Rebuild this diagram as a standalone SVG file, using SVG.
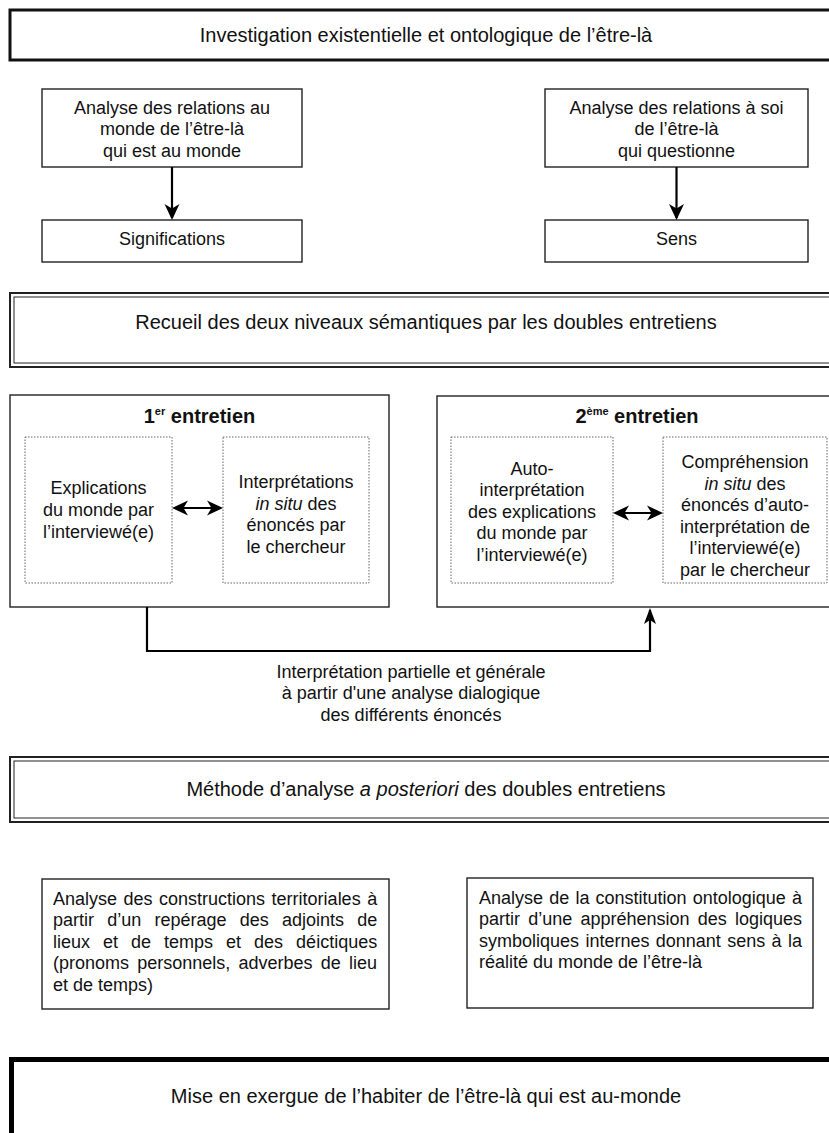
<svg xmlns="http://www.w3.org/2000/svg" width="829" height="1133" viewBox="0 0 829 1133">
<defs>
<style>
text{font-family:"Liberation Sans",Arial,sans-serif;fill:#111;}
.t20{font-size:20px;text-anchor:middle;}
.t18{font-size:18px;text-anchor:middle;}
.tl{font-size:18px;}
.b{font-weight:bold;font-size:20px;text-anchor:middle;}
.box{fill:#fff;stroke:#222;stroke-width:1.4;}
.dot{fill:none;stroke:#666;stroke-width:1;stroke-dasharray:1.5 1.5;}
.arr{fill:none;stroke:#000;stroke-width:2.2;}
</style>
<marker id="ah" markerUnits="userSpaceOnUse" markerWidth="18" markerHeight="18" refX="14" refY="8" orient="auto-start-reverse">
<path d="M0,0.5 L16,8 L0,15.5 L4.5,8 z" fill="#000"/>
</marker>
<marker id="ah2" markerUnits="userSpaceOnUse" markerWidth="18" markerHeight="14" refX="14" refY="6.5" orient="auto">
<path d="M0,0.5 L16,6.5 L0,12.5 L4,6.5 z" fill="#000"/>
</marker>
</defs>

<g id="n-investigation">
<rect x="10" y="10" width="840" height="50" fill="#fff" stroke="#111" stroke-width="3"/>
<text class="t20" x="426" y="42">Investigation existentielle et ontologique de l’être-là</text>
</g>

<g id="n-analyse-monde">
<rect class="box" x="42" y="89" width="260" height="78"/>
<text class="t18" x="172" y="113.5">Analyse des relations au</text>
<text class="t18" x="172" y="135">monde de l’être-là</text>
<text class="t18" x="172" y="156.5">qui est au monde</text>
</g>
<g id="n-significations">
<rect class="box" x="42" y="220" width="260" height="42"/>
<text class="t18" x="172" y="244.5">Significations</text>
</g>

<g id="n-analyse-soi">
<rect class="box" x="545" y="89" width="263" height="78"/>
<text class="t18" x="676.5" y="113.5">Analyse des relations à soi</text>
<text class="t18" x="676.5" y="135">de l’être-là</text>
<text class="t18" x="676.5" y="156.5">qui questionne</text>
</g>
<g id="n-sens">
<rect class="box" x="545" y="220" width="263" height="42"/>
<text class="t18" x="676.5" y="244.5">Sens</text>
</g>

<g id="n-recueil">
<rect x="10" y="293" width="840" height="74" fill="#fff" stroke="#222" stroke-width="2"/>
<rect x="14" y="297" width="840" height="66" fill="none" stroke="#222" stroke-width="1"/>
<text class="t20" x="426" y="329">Recueil des deux niveaux sémantiques par les doubles entretiens</text>
</g>

<g id="n-entretien1">
<rect class="box" x="10" y="395" width="379" height="212" stroke-width="1.6"/>
<text class="b" x="199.5" y="423">1<tspan font-size="11" dy="-8">er</tspan><tspan dy="8"> entretien</tspan></text>
</g>
<g id="n-explications">
<rect class="dot" x="25" y="437" width="147" height="146"/>
<text class="t18" x="98.5" y="494">Explications</text>
<text class="t18" x="98.5" y="516">du monde par</text>
<text class="t18" x="98.5" y="538">l’interviewé(e)</text>
</g>
<g id="n-interpretations">
<rect class="dot" x="223" y="437" width="146" height="146"/>
<text class="t18" x="296" y="488">Interprétations</text>
<text class="t18" x="296" y="509.5"><tspan font-style="italic">in situ</tspan> des</text>
<text class="t18" x="296" y="531">énoncés par</text>
<text class="t18" x="296" y="552.5">le chercheur</text>
</g>

<g id="n-entretien2">
<rect class="box" x="437" y="396" width="400" height="211" stroke-width="1.6"/>
<text class="b" x="637" y="423">2<tspan font-size="11" dy="-8">ème</tspan><tspan dy="8"> entretien</tspan></text>
</g>
<g id="n-auto">
<rect class="dot" x="451" y="437" width="162" height="146"/>
<text class="t18" x="532" y="474.5">Auto-</text>
<text class="t18" x="532" y="496">interprétation</text>
<text class="t18" x="532" y="517.5">des explications</text>
<text class="t18" x="532" y="539">du monde par</text>
<text class="t18" x="532" y="560.5">l’interviewé(e)</text>
</g>
<g id="n-comprehension">
<rect class="dot" x="663" y="437" width="164" height="146"/>
<text class="t18" x="745" y="468">Compréhension</text>
<text class="t18" x="745" y="489.5"><tspan font-style="italic">in situ</tspan> des</text>
<text class="t18" x="745" y="511">énoncés d’auto-</text>
<text class="t18" x="745" y="532.5">interprétation de</text>
<text class="t18" x="745" y="554">l’interviewé(e)</text>
<text class="t18" x="745" y="575.5">par le chercheur</text>
</g>

<g id="n-label-interpretation">
<text class="t18" x="411" y="677.5">Interprétation partielle et générale</text>
<text class="t18" x="411" y="699">à partir d'une analyse dialogique</text>
<text class="t18" x="411" y="720.5">des différents énoncés</text>
</g>

<g id="n-methode">
<rect x="10" y="757" width="840" height="65" fill="#fff" stroke="#222" stroke-width="2"/>
<rect x="14" y="761" width="840" height="57" fill="none" stroke="#222" stroke-width="1"/>
<text class="t20" x="426" y="796">Méthode d’analyse <tspan font-style="italic">a posteriori</tspan> des doubles entretiens</text>
</g>

<g id="n-constructions">
<rect class="box" x="42" y="879" width="347" height="130"/>
<text class="tl" x="53" y="904.5" word-spacing="1.5">Analyse des constructions territoriales à</text>
<text class="tl" x="53" y="926" word-spacing="8.2">partir d’un repérage des adjoints de</text>
<text class="tl" x="53" y="947.5" word-spacing="8">lieux et de temps et des déictiques</text>
<text class="tl" x="53" y="969" word-spacing="3.2">(pronoms personnels, adverbes de lieu</text>
<text class="tl" x="53" y="990.5">et de temps)</text>
</g>

<g id="n-constitution">
<rect class="box" x="467" y="878" width="346" height="130"/>
<text class="tl" x="479" y="903.5" word-spacing="1.16">Analyse de la constitution ontologique à</text>
<text class="tl" x="479" y="925" word-spacing="3.2">partir d’une appréhension des logiques</text>
<text class="tl" x="479" y="946.5" word-spacing="1.36">symboliques internes donnant sens à la</text>
<text class="tl" x="479" y="968">réalité du monde de l’être-là</text>
</g>

<g id="n-mise">
<rect x="11.5" y="1059.5" width="840" height="100" fill="#fff" stroke="#000" stroke-width="5"/>
<text class="t20" x="426" y="1103">Mise en exergue de l’habiter de l’être-là qui est au-monde</text>
</g>

<g id="connectors">
<line class="arr" x1="172" y1="167" x2="172" y2="218" marker-end="url(#ah)"/>
<line class="arr" x1="676.5" y1="167" x2="676.5" y2="218" marker-end="url(#ah)"/>
<line class="arr" x1="174" y1="508" x2="221" y2="508" marker-start="url(#ah)" marker-end="url(#ah)"/>
<line class="arr" x1="615" y1="513" x2="661" y2="513" marker-start="url(#ah)" marker-end="url(#ah)"/>
<path class="arr" d="M147,607 V651 H650 V610" stroke-width="2.5" marker-end="url(#ah2)"/>
</g>
</svg>
